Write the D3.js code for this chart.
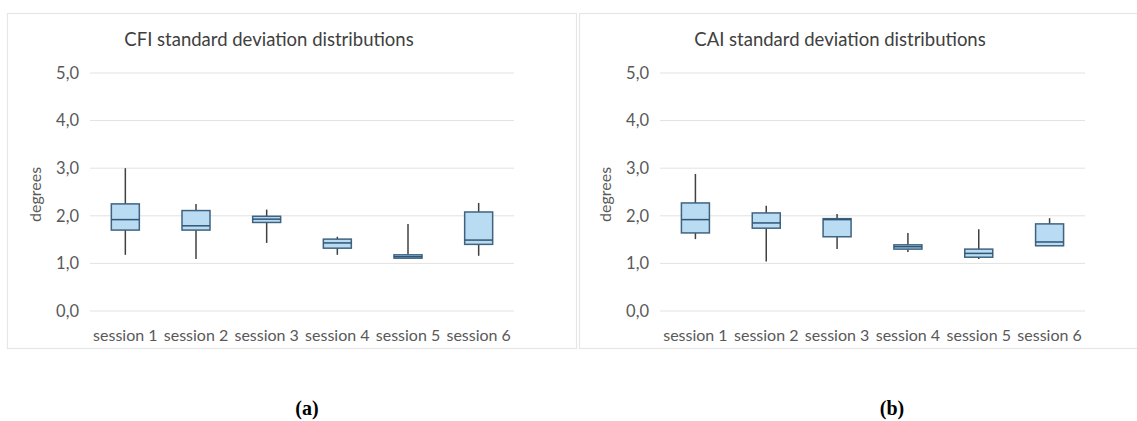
<!DOCTYPE html>
<html><head><meta charset="utf-8">
<script src="https://cdn.jsdelivr.net/npm/d3@7"></script>
<style>body{margin:0;background:#fff;}svg{display:block;}</style>
</head><body>
<svg id="c" width="1137" height="421"></svg>
<script>
const sessions = ["session 1","session 2","session 3","session 4","session 5","session 6"];
const yTicks = [0,1,2,3,4,5];
// CFI: whisker low, q1, median, q3, whisker high
const cfiLow  = [1.18,1.09,1.43,1.18,1.10,1.16];
const cfiQ1   = [1.70,1.70,1.86,1.32,1.11,1.40];
const cfiMed  = [1.92,1.79,1.93,1.43,1.14,1.49];
const cfiQ3   = [2.25,2.11,1.99,1.51,1.18,2.08];
const cfiHigh = [3.00,2.25,2.13,1.56,1.83,2.27];
// CAI
const caiLow  = [1.51,1.04,1.30,1.24,1.09,1.37];
const caiQ1   = [1.64,1.74,1.56,1.30,1.13,1.37];
const caiMed  = [1.92,1.85,1.92,1.35,1.21,1.45];
const caiQ3   = [2.27,2.06,1.94,1.39,1.30,1.83];
const caiHigh = [2.88,2.21,2.04,1.64,1.72,1.95];
const titles = ["CFI standard deviation distributions","CAI standard deviation distributions"];
const captions = ["(a)","(b)"];

const panels = [
  {title:titles[0], low:cfiLow,q1:cfiQ1,med:cfiMed,q3:cfiQ3,high:cfiHigh, fx:7, fw:569, x0:90, x1:514, cap:captions[0], capx:307, tx:269},
  {title:titles[1], low:caiLow,q1:caiQ1,med:caiMed,q3:caiQ3,high:caiHigh, fx:579, fw:560, x0:660, x1:1085, cap:captions[1], capx:892, tx:840}
];
const svg = d3.select("#c");
const font = "Lato, 'Open Sans', sans-serif";
const y = d3.scaleLinear().domain([0,5]).range([311,73]);

panels.forEach(p=>{
  const g = svg.append("g");
  g.append("rect").attr("x",p.fx+0.5).attr("y",13.5).attr("width",p.fw).attr("height",335)
    .attr("fill","#fff").attr("stroke","#e6e6e6").attr("stroke-width",1.2);
  const x = d3.scaleBand().domain(sessions).range([p.x0,p.x1]);
  g.append("g").selectAll("line").data(yTicks).join("line")
    .attr("x1",p.x0).attr("x2",p.x1).attr("y1",d=>y(d)).attr("y2",d=>y(d))
    .attr("stroke","#e2e2e2").attr("stroke-width",1);
  const ya = g.append("g").attr("transform",`translate(${p.x0-8},0)`)
    .call(d3.axisLeft(y).tickValues(yTicks).tickSize(0).tickFormat(d=>d.toFixed(1).replace(".",",")));
  ya.select(".domain").remove();
  ya.selectAll("text").attr("font-family",font).attr("font-size",16.5).attr("fill","#595959");
  const xa = g.append("g").attr("transform",`translate(0,${y(0)+16})`)
    .call(d3.axisBottom(x).tickSize(0));
  xa.select(".domain").remove();
  xa.selectAll("text").attr("font-family",font).attr("font-size",16).attr("fill","#595959");
  g.append("text").attr("x",p.tx).attr("y",46).attr("text-anchor","middle")
    .attr("font-family",font).attr("font-size",18.5).attr("fill","#404040").text(p.title);
  g.append("text").attr("transform",`translate(${p.x0-49},${y(2.45)}) rotate(-90)`)
    .attr("text-anchor","middle").attr("font-family",font).attr("font-size",16).attr("fill","#595959").text("degrees");
  const bw = 28;
  const bx = g.append("g").selectAll("g").data(sessions).join("g");
  bx.append("line").attr("x1",(d)=>x(d)+x.bandwidth()/2).attr("x2",d=>x(d)+x.bandwidth()/2)
    .attr("y1",(d,i)=>y(p.high[i])).attr("y2",(d,i)=>y(p.low[i])).attr("stroke","#404040").attr("stroke-width",1.5);
  bx.append("rect").attr("x",d=>x(d)+x.bandwidth()/2-bw/2).attr("width",bw)
    .attr("y",(d,i)=>y(p.q3[i])).attr("height",(d,i)=>Math.max(2,y(p.q1[i])-y(p.q3[i])))
    .attr("fill","#b9dcf3").attr("stroke","#3f6381").attr("stroke-width",1.5);
  bx.append("line").attr("x1",d=>x(d)+x.bandwidth()/2-bw/2).attr("x2",d=>x(d)+x.bandwidth()/2+bw/2)
    .attr("y1",(d,i)=>y(p.med[i])).attr("y2",(d,i)=>y(p.med[i])).attr("stroke","#2f5575").attr("stroke-width",1.5);
  svg.append("text").attr("x",p.capx).attr("y",415).attr("text-anchor","middle")
    .attr("font-family","'Liberation Serif', serif").attr("font-size",20).attr("font-weight","bold").attr("fill","#000").text(p.cap);
});
</script>
</body></html>
